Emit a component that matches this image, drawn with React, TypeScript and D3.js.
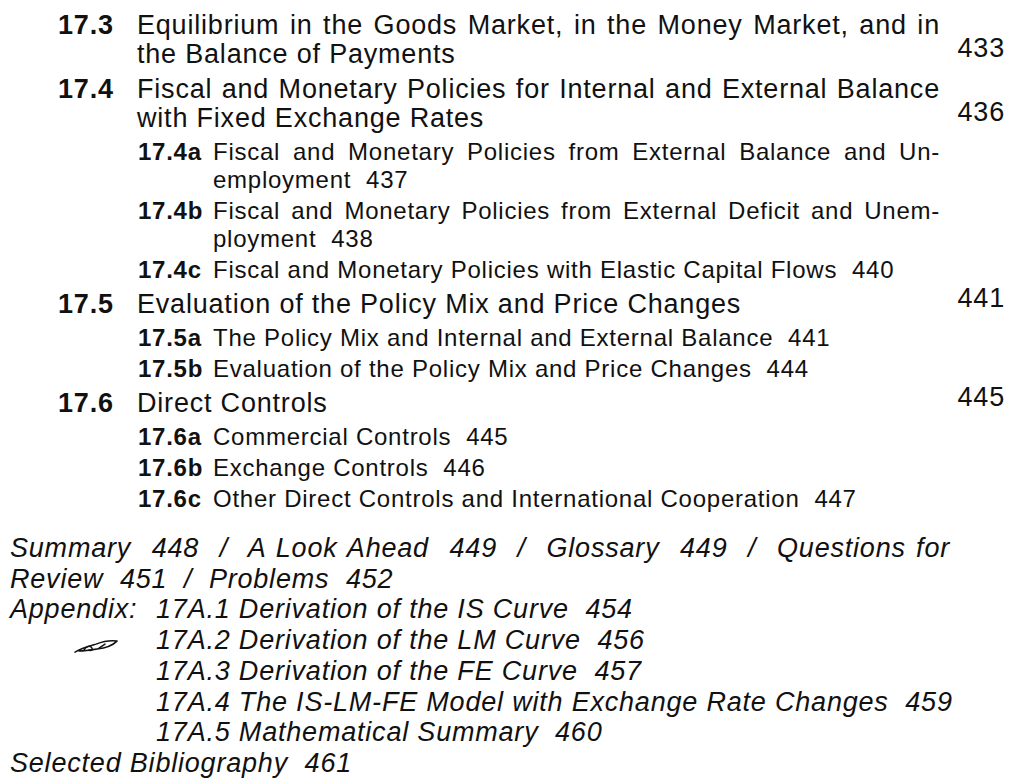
import React, { useRef, useEffect } from "react";
import * as d3 from "d3";

// main sections
const sectionNums = ["17.3", "17.4", "17.5", "17.6"];
const sectionTitles = [
    ["Equilibrium in the Goods Market, in the Money Market, and in", "the Balance of Payments"],
    ["Fiscal and Monetary Policies for Internal and External Balance", "with Fixed Exchange Rates"],
    ["Evaluation of the Policy Mix and Price Changes"],
    ["Direct Controls"],
];
const sectionPages = ["433", "436", "441", "445"];

// subsections, grouped by section
const subNums = [[], ["17.4a", "17.4b", "17.4c"], ["17.5a", "17.5b"], ["17.6a", "17.6b", "17.6c"]];
const subTitles = [
    [],
    [
        ["Fiscal and Monetary Policies from External Balance and Un-", "employment"],
        ["Fiscal and Monetary Policies from External Deficit and Unem-", "ployment"],
        ["Fiscal and Monetary Policies with Elastic Capital Flows"],
    ],
    [["The Policy Mix and Internal and External Balance"], ["Evaluation of the Policy Mix and Price Changes"]],
    [["Commercial Controls"], ["Exchange Controls"], ["Other Direct Controls and International Cooperation"]],
];
const subPages = [[], ["437", "438", "440"], ["441", "444"], ["445", "446", "447"]];

// end matter (italic)
const endTitles = ["Summary", "A Look Ahead", "Glossary", "Questions for Review", "Problems"];
const endPages = ["448", "449", "449", "451", "452"];
const endBreakWord = "Review";
const appendixLabel = "Appendix:";
const appendixNums = ["17A.1", "17A.2", "17A.3", "17A.4", "17A.5"];
const appendixTitles = [
    "Derivation of the IS Curve",
    "Derivation of the LM Curve",
    "Derivation of the FE Curve",
    "The IS-LM-FE Model with Exchange Rate Changes",
    "Mathematical Summary",
];
const appendixPages = ["454", "456", "457", "459", "460"];
const biblioTitle = "Selected Bibliography";
const biblioPage = "461";

const W = 1017;
const H = 784;
const GAP = "\u00a0 "; // wide gap before a page number

type Kind = "main" | "sub" | "ital";

interface Part {
    text: string;
    x: number;
    bold?: boolean;
    anchor?: string;
    dy?: number;
    justifyTo?: number;
}

const fontSize: Record<Kind, number> = { main: 27, sub: 24, ital: 27 };
const tracking: Record<Kind, number> = { main: 0.8, sub: 0.75, ital: 0.8 };

const App: React.FC = () => {
    const ref = useRef<SVGSVGElement>(null);

    useEffect(() => {
        if (!ref.current) return;
        const svg = d3.select(ref.current);
        svg.selectAll("*").remove();

        // running offset (px from the first baseline) -> page y
        const y = d3.scaleLinear().domain([0, 738]).range([34, 772]);
        const step = { wrapMain: 29, main: 35, firstSub: 33, wrapSub: 28, sub: 31, endGap: 50, ital: 30.7 };

        const x = { mainNum: 58, mainText: 137, subNum: 138, subText: 213, page: 1005,
            measure: 940, italRight: 950, end: 10, appNum: 156 };

        const rows: { off: number; kind: Kind; parts: Part[] }[] = [];
        let off = 0;

        sectionNums.forEach((num, i) => {
            if (i > 0) off += step.main;
            const lines = sectionTitles[i];
            lines.forEach((line, j) => {
                if (j > 0) off += step.wrapMain;
                const parts: Part[] = [];
                if (j === 0) parts.push({ text: num, x: x.mainNum, bold: true });
                parts.push({ text: line, x: x.mainText, justifyTo: j < lines.length - 1 ? x.measure : undefined });
                rows.push({ off, kind: "main", parts });
            });
            // page number sits a little above the last line's baseline
            rows[rows.length - 1].parts.push({ text: sectionPages[i], x: x.page, anchor: "end", dy: -6 });

            subNums[i].forEach((sn, k) => {
                off += k === 0 ? step.firstSub : step.sub;
                const sl = subTitles[i][k];
                sl.forEach((line, j) => {
                    if (j > 0) off += step.wrapSub;
                    const parts: Part[] = [];
                    if (j === 0) parts.push({ text: sn, x: x.subNum, bold: true });
                    const last = j === sl.length - 1;
                    parts.push({
                        text: last ? `${line}${GAP}${subPages[i][k]}` : line,
                        x: x.subText,
                        justifyTo: last ? undefined : x.measure,
                    });
                    rows.push({ off, kind: "sub", parts });
                });
            });
        });

        // end matter paragraph, wrapped before "Review"
        const endText = endTitles.map((t, i) => `${t}${GAP}${endPages[i]}`).join(GAP + "/" + GAP);
        const brk = endText.lastIndexOf(endBreakWord);
        off += step.endGap;
        rows.push({ off, kind: "ital", parts: [{ text: endText.slice(0, brk).trimEnd(), x: x.end, justifyTo: x.italRight }] });
        off += step.ital;
        rows.push({ off, kind: "ital", parts: [{ text: endText.slice(brk), x: x.end }] });

        let quillOff = 0;
        appendixNums.forEach((an, i) => {
            off += step.ital;
            if (i === 1) quillOff = off;
            const parts: Part[] = [];
            if (i === 0) parts.push({ text: appendixLabel, x: x.end });
            parts.push({ text: `${an} ${appendixTitles[i]}${GAP}${appendixPages[i]}`, x: x.appNum });
            rows.push({ off, kind: "ital", parts });
        });
        off += step.ital;
        rows.push({ off, kind: "ital", parts: [{ text: `${biblioTitle}${GAP}${biblioPage}`, x: x.end }] });

        svg.append("rect").attr("width", W).attr("height", H).attr("fill", "#fff");

        const g = svg.append("g")
            .style("font-family", "'Liberation Sans', Arial, Helvetica, sans-serif")
            .attr("fill", "#111");

        rows.forEach(row => {
            row.parts.forEach(p => {
                const t = g.append("text")
                    .attr("x", p.x)
                    .attr("y", y(row.off) + (p.dy || 0))
                    .attr("text-anchor", p.anchor || "start")
                    .style("font-size", `${fontSize[row.kind]}px`)
                    .style("letter-spacing", `${tracking[row.kind]}px`)
                    .style("font-weight", p.bold ? "bold" : "normal")
                    .style("font-style", row.kind === "ital" ? "italic" : "normal")
                    .text(p.text);
                if (p.justifyTo) {
                    // stretch word gaps so the line fills its measure
                    const node = t.node() as SVGTextElement;
                    const len = node.getComputedTextLength();
                    const gaps = (p.text.match(/[ \u00a0]/g) || []).length;
                    const extra = (p.justifyTo - p.x - len) / gaps;
                    if (gaps > 0 && extra > 0) t.attr("word-spacing", extra);
                }
            });
        });

        // the little quill mark beside 17A.2
        const qy = y(quillOff);
        const quill = svg.append("g")
            .attr("transform", `translate(75,${qy + 3})`)
            .attr("fill", "none")
            .attr("stroke", "#111")
            .attr("stroke-width", 1.5)
            .attr("stroke-linecap", "round")
            .attr("stroke-linejoin", "round");
        quill.append("path").attr("d", "M0,0 C6,-4 14,-6 21,-8 C29,-11 36,-12 42,-11 C38,-7 30,-4 22,-3 C16,-2 10,-1 4,-1");
        quill.append("path").attr("d", "M9,-2 C11,-6 15,-7 17,-4 C18,-2 16,-1 14,-2 M24,-4 L30,-8");
    }, []);

    return (
        <svg ref={ref} width={W} height={H} style={{ position: "absolute", left: 0, top: 0 }} />
    );
};

export default App;
